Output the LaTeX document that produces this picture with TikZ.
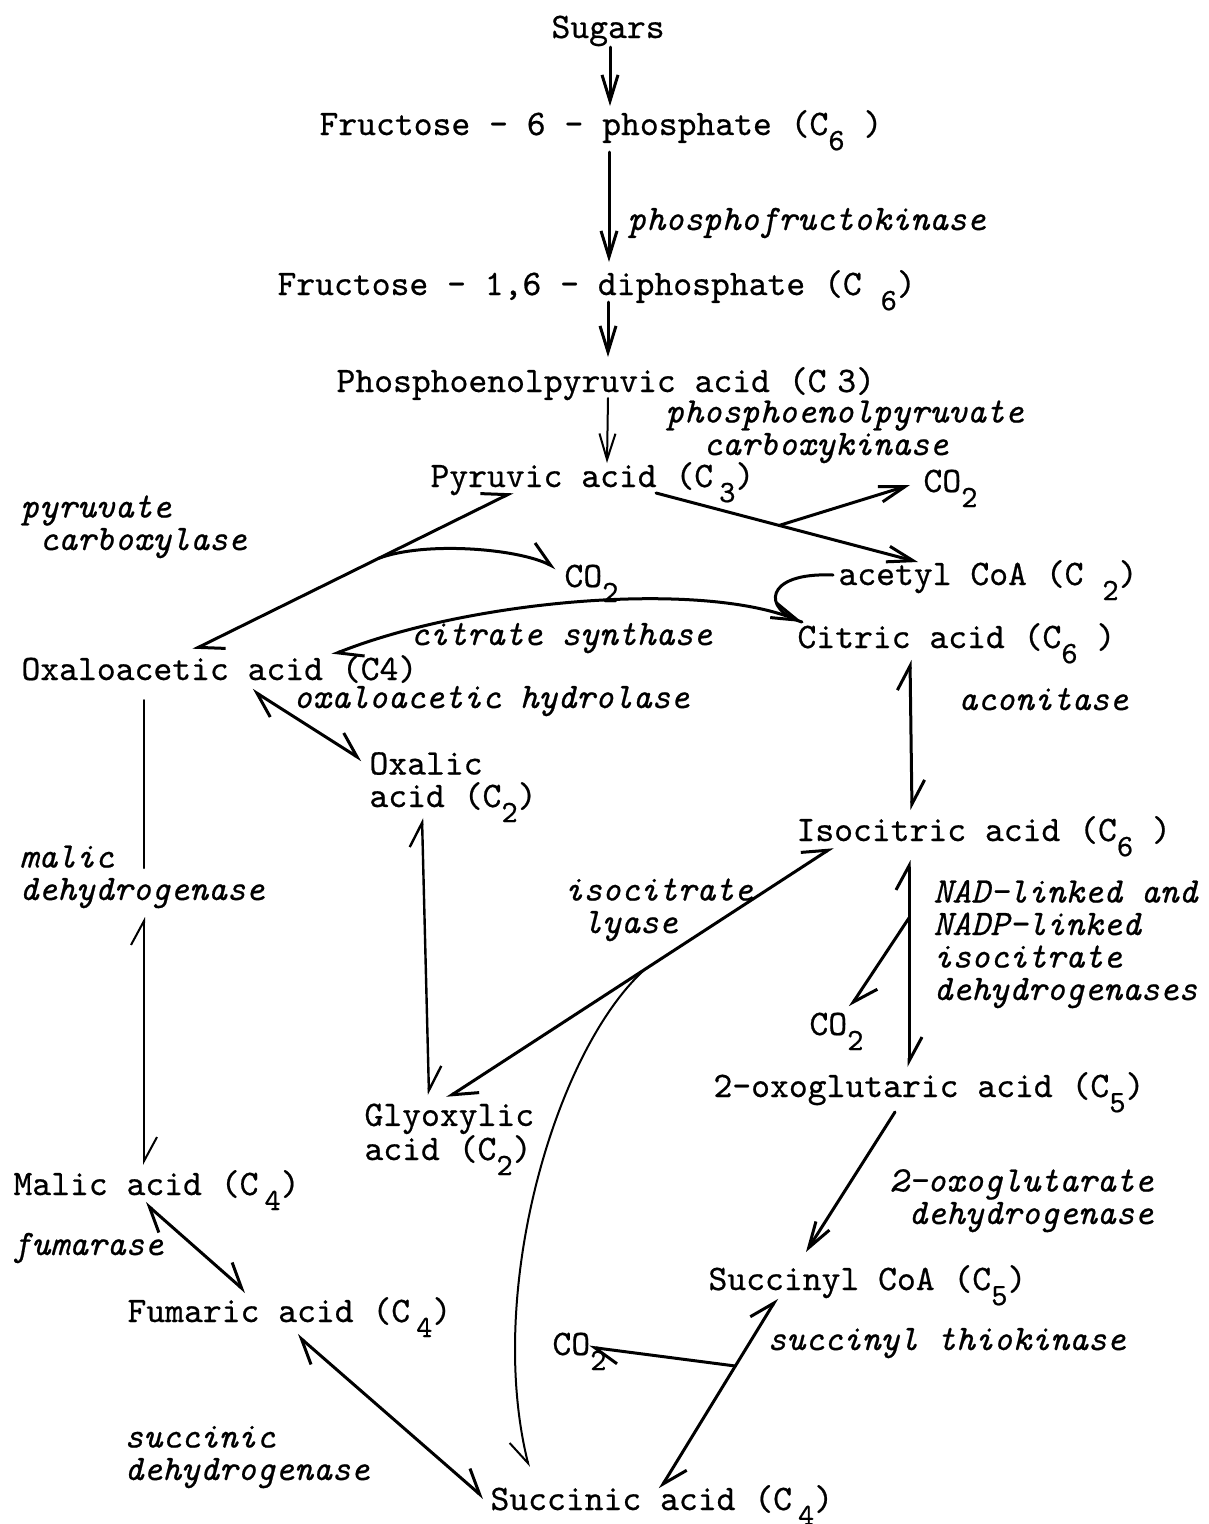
\documentclass[tikz,border=0pt]{standalone}
\usepackage{fontspec}
\newfontfamily\chemfont[ItalicFont=lmmono10-italic.otf,FakeBold=0.6]{lmmono10-regular.otf}
\usetikzlibrary{arrows.meta}
\newcommand{\sbs}[1]{\raisebox{-0.42em}[0pt][0pt]{\fontsize{31}{31}\selectfont #1}}
\tikzset{
  chem/.style={font=\chemfont\fontsize{35.9}{32.5}\selectfont, inner sep=0pt, anchor=base west, align=left},
  enz/.style={chem, font=\chemfont\itshape\fontsize{35.9}{32.5}\selectfont},
  fwd/.style={-{Straight Barb[length=26pt,width=16pt]}},
  rev/.style={{Straight Barb[left,length=24pt,width=26pt]}-{Straight Barb[left,length=24pt,width=26pt]}},
  harp/.style={-{Straight Barb[left,length=24pt,width=26pt]}},
}
\begin{document}
\begin{tikzpicture}[x=1pt,y=-1pt,line width=3pt,line cap=round,line join=round]
\useasboundingbox (0,0) rectangle (1208,1524);
% compounds
\node[chem] (sug) at (550,38) {Sugars};
\node[chem] (f6p) at (318,135) {Fructose - 6 - phosphate (C\sbs{6}~)};
\node[chem] (f16) at (276,295) {Fructose - 1,6 - diphosphate (C~\sbs{6})};
\node[chem] (pep) at (335,392) {Phosphoenolpyruvic acid (C\hspace{0.3em}3)};
\node[chem] (pyr) at (429,487) {Pyruvic acid (C\,\sbs{3})};
\node[chem] (co2a) at (922,492) {CO\sbs{2}};
\node[chem] (co2b) at (563,587) {CO\sbs{2}};
\node[chem] (acoa) at (837,585) {acetyl CoA (C~\sbs{2})};
\node[chem] (cit) at (796,648) {Citric acid (C\sbs{6}~)};
\node[chem] (oaa) at (20,680) {Oxaloacetic acid (C4)};
\node[chem] (oxal) at (368,807) {Oxalic\\acid (C\sbs{2})};
\node[chem] (iso) at (795,841) {Isocitric acid (C\sbs{6}~)};
\node[chem] (co2c) at (808,1035) {CO\sbs{2}};
\node[chem] (oxo) at (712,1097) {2-oxoglutaric acid (C\sbs{5})};
\node[chem] (glx) at (363,1160) {Glyoxylic\\acid (C\sbs{2})};
\node[chem] (mal) at (12,1195) {Malic acid (C\,\sbs{4})};
\node[chem] (scoa) at (707,1290) {Succinyl CoA (C\sbs{5})};
\node[chem] (fuma) at (126,1322) {Fumaric acid (C\,\sbs{4})};
\node[chem] (co2d) at (551,1355) {CO\sbs{2}};
\node[chem] (succ) at (489,1510) {Succinic acid (C\,\sbs{4})};
% enzymes
\node[enz] (pfk) at (626,230) {phosphofructokinase};
\node[enz] (pepck) at (664,455) {phosphoenolpyruvate\\\hspace*{1.05em}carboxykinase};
\node[enz] (pc) at (19,550) {pyruvate\\\hspace*{0.525em}carboxylase};
\node[enz] (cs) at (409,645) {citrate synthase};
\node[enz] (oah) at (292,708) {oxaloacetic hydrolase};
\node[enz] (acon) at (957,710) {aconitase};
\node[enz] (md) at (18,900) {malic\\dehydrogenase};
\node[enz] (il) at (563,933) {isocitrate\\\hspace*{0.525em}lyase};
\node[enz] (nad) at (932,1000) {NAD-linked and\\NADP-linked\\isocitrate\\dehydrogenases};
\node[enz] (oxdh) at (888,1224) {2-oxoglutarate\\\hspace*{0.525em}dehydrogenase};
\node[enz] (fum) at (11,1255) {fumarase};
\node[enz] (stk) at (766,1350) {succinyl thiokinase};
\node[enz] (sdh) at (123,1480) {succinic\\dehydrogenase};
% glycolysis
\draw[fwd] ([shift={(60,9)}]sug.base west) -- ([shift={(292,-29)}]f6p.base west);
\draw[fwd] ([shift={(291,17)}]f6p.base west) -- ([shift={(333,-33)}]f16.base west);
\draw[fwd] ([shift={(332,7)}]f16.base west) -- ([shift={(273,-35)}]pep.base west);
\draw[fwd,line width=2pt] ([shift={(273,6)}]pep.base west) -- ([shift={(178,-24)}]pyr.base west);
\draw[fwd] ([shift={(227,6)}]pyr.base west) -- coordinate[pos=0.47] (pdh) ([shift={(81,-23)}]acoa.base west);
\draw[fwd] (pdh) -- ([shift={(-12,-7)}]co2a.base west);
\draw[rev] ([shift={(84,5)}]pyr.base west) -- coordinate[pos=0.42] (pcx) ([shift={(173,-30)}]oaa.base west);
\draw[harp] (pcx) .. controls +(45,-17) and +(-40,-20) .. ([shift={(-7,-19)}]co2b.base west);
% cycle
\draw[{Straight Barb[left,length=24pt,width=26pt]}-{Straight Barb[length=26pt,width=16pt]}] ([shift={(312,-25)}]oaa.base west) .. controls +(138,-55) and +(-102,-42) .. ([shift={(6,-26)}]cit.base west);
\draw ([shift={(-4,-10)}]acoa.base west) .. controls +(-70,-3) and +(-40,-12) .. ([shift={(6,-26)}]cit.base west);
\draw[rev] ([shift={(114,12)}]cit.base west) -- ([shift={(117,-31)}]iso.base west);
\draw[rev] ([shift={(232,10)}]oaa.base west) -- ([shift={(-6,-47)}]oxal.base west);
\draw[rev,line width=2pt] ([shift={(124,20)}]oaa.base west) -- ([shift={(126,-32)}]md.base west)
  ([shift={(126,17)}]md.base west) -- ([shift={(132,-30)}]mal.base west);
\draw[rev,line width=2.4pt] ([shift={(54,11)}]oxal.base west) -- ([shift={(66,-65)}]glx.base west);
\draw[rev] ([shift={(38,6)}]iso.base west) -- coordinate[pos=0.487] (icl) ([shift={(84,-62)}]glx.base west);
\draw[-{Straight Barb[right,length=24pt,width=26pt]},line width=2pt] (icl) .. controls +(-89,80) and +(-44,-177) .. ([shift={(40,-43)}]succ.base west);
\draw[rev] ([shift={(114,19)}]iso.base west) -- coordinate[pos=0.28] (idh) ([shift={(197,-30)}]oxo.base west);
\draw[harp] (idh) -- ([shift={(42,-28)}]co2c.base west);
\draw[fwd] ([shift={(183,15)}]oxo.base west) -- ([shift={(99,-38)}]scoa.base west);
\draw[rev] ([shift={(70,8)}]scoa.base west) -- coordinate[pos=0.356] (stx) ([shift={(171,-21)}]succ.base west);
\draw[harp] (stx) -- ([shift={(38,-8)}]co2d.base west);
\draw[rev] ([shift={(133,8)}]mal.base west) -- ([shift={(120,-30)}]fuma.base west);
\draw[rev] ([shift={(171,13)}]fuma.base west) -- ([shift={(-5,-12)}]succ.base west);
\end{tikzpicture}
\end{document}
